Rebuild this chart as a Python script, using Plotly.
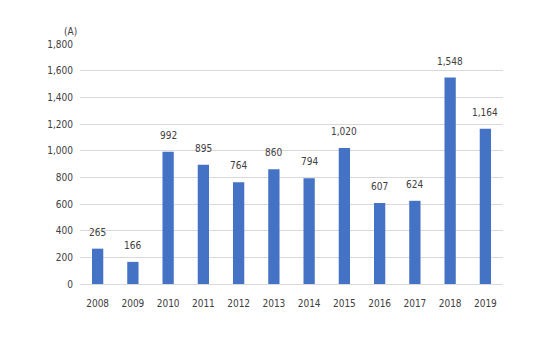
import plotly.graph_objects as go

years = ["2008","2009","2010","2011","2012","2013","2014","2015","2016","2017","2018","2019"]
values = [265, 166, 992, 895, 764, 860, 794, 1020, 607, 624, 1548, 1164]
tick_vals = [0, 200, 400, 600, 800, 1000, 1200, 1400, 1600, 1800]
tick_text = ["0", "200", "400", "600", "800", "1,000", "1,200", "1,400", "1,600", "1,800"]

FONT = "DejaVu Sans Condensed, Liberation Sans Narrow, sans-serif"
fig = go.Figure(go.Bar(
    x=years, y=values,
    marker=dict(color="#4472C4", line=dict(width=0)),
    cliponaxis=False,
))
annots = [dict(text=f"{v:,}", x=i, y=v, xref="x", yref="y", yanchor="bottom",
               yshift=9, showarrow=False,
               font=dict(family=FONT, size=10, color="#404040"))
          for i, v in enumerate(values)]
annots.append(dict(text="(A)", x=0, xref="paper", xanchor="right", xshift=-1,
                   y=1, yref="paper", yanchor="bottom", yshift=5, showarrow=False,
                   font=dict(family=FONT, size=10, color="#404040")))
fig.update_layout(
    width=550, height=340,
    margin=dict(l=80, r=47, t=44, b=56),
    paper_bgcolor="white", plot_bgcolor="white",
    bargap=0.68, showlegend=False,
    font=dict(family=FONT, size=10, color="#404040"),
    xaxis=dict(type="category", categoryorder="array", categoryarray=years,
               showgrid=False, showline=True, linecolor="#D9D9D9", ticks="",
               ticklabelstandoff=10,
               tickfont=dict(family=FONT, size=10, color="#404040")),
    yaxis=dict(range=[0, 1800], tickvals=tick_vals, ticktext=tick_text,
               showgrid=True, gridcolor="#D9D9D9", zeroline=False, ticks="",
               showline=False, ticklabelstandoff=6,
               tickfont=dict(family=FONT, size=10, color="#404040")),
    annotations=annots,
)
fig.write_html("out.html")
